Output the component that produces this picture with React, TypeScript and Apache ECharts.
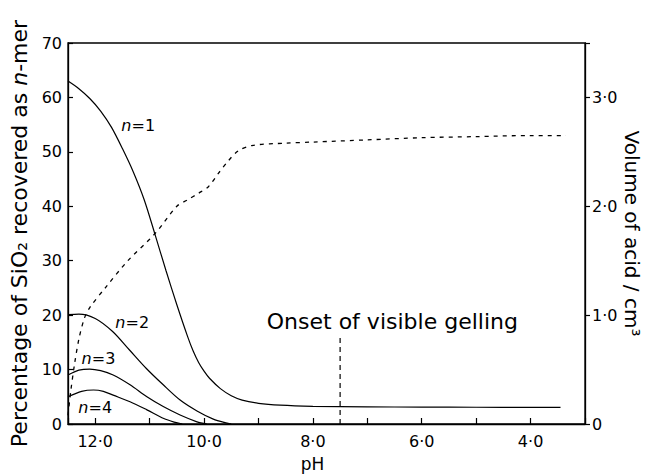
import React, { useEffect, useRef } from 'react';
import * as echarts from 'echarts';

const FONT = 'DejaVu Sans';

// pH (x) vs percentage (left axis)
const n1: [number, number][] = [
  [12.5, 63], [12.3, 61.6], [12.1, 59.8], [11.9, 57.5], [11.7, 54.5], [11.5, 50.6],
  [11.3, 46.3], [11.1, 41.2], [10.9, 34.8], [10.7, 28.2], [10.5, 21.9], [10.3, 16.0],
  [10.2, 13.4], [10.1, 11.3], [10.0, 9.7], [9.9, 8.4], [9.7, 6.5], [9.5, 5.2], [9.3, 4.4],
  [9.0, 3.8], [8.6, 3.45], [8.0, 3.25], [7.0, 3.15], [6.0, 3.1], [5.0, 3.08], [4.0, 3.05],
  [3.45, 3.05],
];
const n2: [number, number][] = [
  [12.5, 20.1], [12.3, 20.2], [12.0, 19.4], [11.68, 17.0], [11.37, 13.6], [11.06, 10.2],
  [10.75, 7.2], [10.44, 4.4], [10.13, 2.4], [9.83, 0.9], [9.6, 0.2], [9.5, 0],
];
const n3: [number, number][] = [
  [12.5, 9.0], [12.3, 9.9], [12.1, 10.1], [11.9, 9.8], [11.67, 9.0], [11.36, 7.2],
  [11.05, 5.0], [10.75, 3.2], [10.44, 1.65], [10.13, 0.4], [9.95, 0],
];
const n4: [number, number][] = [
  [12.5, 5.0], [12.25, 6.0], [12.03, 6.25], [11.85, 6.0], [11.67, 5.3], [11.36, 4.1],
  [11.05, 2.6], [10.74, 1.0], [10.55, 0.35], [10.4, 0],
];
// pH vs volume of acid / cm3 (right axis)
const acid: [number, number][] = [
  [12.5, 0.08], [12.45, 0.3], [12.38, 0.55], [12.3, 0.78], [12.2, 0.97], [12.1, 1.07],
  [11.8, 1.26], [11.4, 1.5], [10.9, 1.75], [10.5, 2.0], [10.3, 2.06], [10.1, 2.12],
  [9.92, 2.18], [9.74, 2.3], [9.55, 2.42], [9.37, 2.51], [9.1, 2.56], [8.5, 2.58],
  [8.0, 2.59], [7.0, 2.61], [6.0, 2.63], [5.0, 2.64], [4.0, 2.65], [3.35, 2.65],
];
const gelling: [number, number][] = [[7.5, 0], [7.5, 16.5]];

const labelN1: [number, number] = [11.21, 54.9];
const labelN2: [number, number] = [11.32, 18.7];
const labelN3: [number, number] = [11.94, 12.1];
const labelN4: [number, number] = [12.0, 2.94];
const labelGel: [number, number] = [6.54, 18.9];

const fmt = (v: number) => (v === 0 ? '0' : v.toFixed(1).replace('.', '·'));

function tag(coord: [number, number], text: string, size = 16) {
  return {
    symbol: 'circle',
    symbolSize: 1,
    itemStyle: { color: 'transparent' },
    label: { show: false },
    data: [
      {
        coord,
        label: {
          show: true,
          position: 'inside',
          formatter: text,
          color: '#000',
          fontFamily: FONT,
          fontSize: size,
          rich: { i: { fontStyle: 'italic', fontFamily: FONT, fontSize: size, color: '#000' } },
        },
      },
    ],
  };
}

export default function App() {
  const ref = useRef<HTMLDivElement>(null);
  useEffect(() => {
    const chart = echarts.init(ref.current!, null, { renderer: 'svg' });
    const line = { type: 'solid', color: '#000', width: 1.2 };
    const base = {
      type: 'line',
      showSymbol: false,
      symbol: 'none',
      smooth: 0.3,
      silent: true,
      lineStyle: line,
    };
    chart.setOption({
      animation: false,
      backgroundColor: '#fff',
      grid: {
        left: 68, right: 62, top: 43, bottom: 50,
        outerBoundsMode: 'none',
        containLabel: false,
        show: true, borderColor: '#000', borderWidth: 1.3,
      },
      xAxis: {
        type: 'value',
        min: 3,
        max: 12.5,
        interval: 1,
        inverse: true,
        name: 'pH',
        nameLocation: 'middle',
        nameGap: 31,
        nameTextStyle: { fontFamily: FONT, fontSize: 17, lineHeight: 17, color: '#000', padding: [0, 28, 0, 0] },
        axisLine: { lineStyle: { color: '#000', width: 1.3 } },
        axisTick: { inside: true, length: 6, lineStyle: { color: '#000', width: 1.2 } },
        axisLabel: {
          margin: 9,
          fontFamily: FONT,
          fontSize: 16,
          color: '#000',
          formatter: (v: number) => {
            const r = Math.round(v);
            if (Math.abs(v - r) > 1e-6 || r % 2 !== 0 || r < 4 || r > 12) return '';
            return fmt(r);
          },
        },
        splitLine: { show: false },
      },
      yAxis: [
        {
          type: 'value',
          min: 0,
          max: 70,
          interval: 10,
          name: 'Percentage of SiO₂ recovered as {i|n}-mer',
          nameLocation: 'middle',
          nameRotate: 90,
          nameGap: 38,
          nameTextStyle: {
            fontFamily: FONT,
            fontSize: 22,
            color: '#000',
            rich: { i: { fontStyle: 'italic', fontFamily: FONT, fontSize: 22, color: '#000' } },
          },
          axisLine: { show: true, lineStyle: { color: '#000', width: 1.3 } },
          axisTick: { show: true, inside: true, length: 5, lineStyle: { color: '#000', width: 1.2 } },
          axisLabel: { margin: 6, fontFamily: FONT, fontSize: 16, color: '#000' },
          splitLine: { show: false },
        },
        {
          type: 'value',
          min: 0,
          max: 3.5,
          interval: 1,
          position: 'right',
          name: 'Volume of acid / cm³',
          nameLocation: 'middle',
          nameRotate: -90,
          nameGap: 37,
          nameMoveOverlap: false,
          nameTextStyle: { fontFamily: FONT, fontSize: 20, lineHeight: 20, color: '#000' },
          axisLine: { show: true, lineStyle: { color: '#000', width: 1.3 } },
          axisTick: { show: true, inside: false, length: 5, lineStyle: { color: '#000', width: 1.2 } },
          axisLabel: {
            margin: 7,
            fontFamily: FONT,
            fontSize: 16,
            color: '#000',
            formatter: (v: number) => (Math.abs(v - Math.round(v)) > 1e-6 ? '' : fmt(v)),
          },
          splitLine: { show: false },
        },
      ],
      series: [
        { ...base, name: 'n=1', data: n1, markPoint: tag(labelN1, '{i|n}=1') },
        { ...base, name: 'n=2', data: n2, markPoint: tag(labelN2, '{i|n}=2') },
        { ...base, name: 'n=3', data: n3, markPoint: tag(labelN3, '{i|n}=3') },
        { ...base, name: 'n=4', data: n4, markPoint: tag(labelN4, '{i|n}=4') },
        {
          ...base,
          name: 'acid',
          yAxisIndex: 1,
          data: acid,
          lineStyle: { type: [4, 5], color: '#000', width: 1.3 },
        },
        {
          ...base,
          name: 'gelling',
          smooth: false,
          data: gelling,
          lineStyle: { type: [5, 4], color: '#000', width: 1.2 },
          markPoint: tag(labelGel, 'Onset of visible gelling', 22),
        },
      ],
    });
    return () => chart.dispose();
  }, []);
  return <div ref={ref} style={{ position: 'fixed', left: 0, top: 0, width: 647, height: 474 }} />;
}
